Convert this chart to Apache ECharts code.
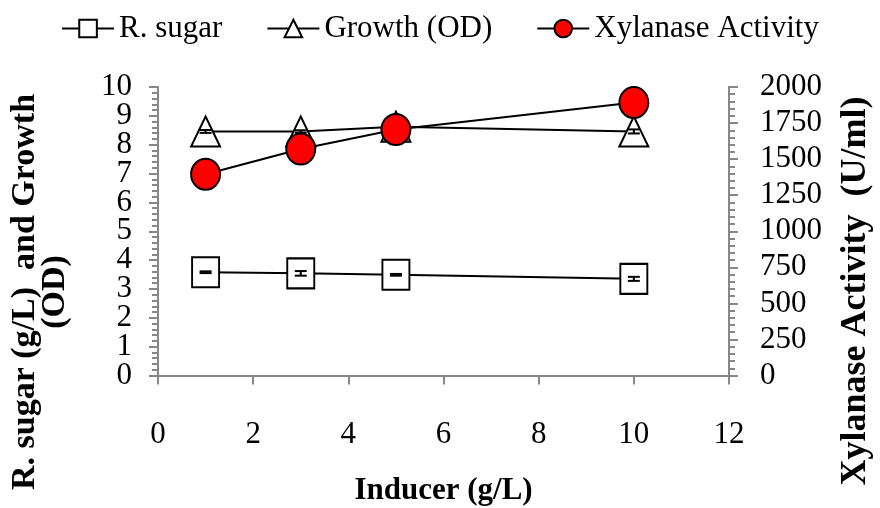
<!DOCTYPE html>
<html>
<head>
<meta charset="utf-8">
<script src="https://cdn.jsdelivr.net/npm/echarts@6/dist/echarts.min.js"></script>
<style>html,body{margin:0;padding:0;background:#fff}#c{width:880px;height:508px}</style>
</head>
<body>
<div id="c"></div>
<script>
// Data
var inducer = [1, 3, 5, 10];
var sugar = [3.58, 3.54, 3.49, 3.35];
var sugarErr = [0.03, 0.08, 0.03, 0.07];
var growth = [8.46, 8.46, 8.62, 8.46];
var growthErr = [0.05, 0.04, 0.04, 0.07];
var xylanase = [1395, 1570, 1705, 1892];
var xTicks = [0, 2, 4, 6, 8, 10, 12];
var leftTicks = [0, 1, 2, 3, 4, 5, 6, 7, 8, 9, 10];
var rightTicks = [0, 250, 500, 750, 1000, 1250, 1500, 1750, 2000];
var xTitle = 'Inducer (g/L)';
var leftTitle = ['R. sugar (g/L)  and Growth', '(OD)'];
var rightTitle = 'Xylanase Activity  (U/ml)';

var FONT = 'Liberation Serif';
function pairs(xs, ys) { return xs.map(function (x, i) { return [x, ys[i]]; }); }
function errData(xs, ys, es) { return xs.map(function (x, i) { return [x, ys[i] - es[i], ys[i] + es[i]]; }); }

function errRender(params, api) {
  var x = api.value(0);
  var lo = api.coord([x, api.value(1)]);
  var hi = api.coord([x, api.value(2)]);
  var w = 6;
  var st = { stroke: '#000', lineWidth: 2 };
  return {
    type: 'group',
    children: [
      { type: 'line', shape: { x1: lo[0], y1: lo[1], x2: hi[0], y2: hi[1] }, style: st },
      { type: 'line', shape: { x1: lo[0] - w, y1: lo[1], x2: lo[0] + w, y2: lo[1] }, style: st },
      { type: 'line', shape: { x1: hi[0] - w, y1: hi[1], x2: hi[0] + w, y2: hi[1] }, style: st }
    ]
  };
}

var axisLineStyle = { color: '#878787', width: 2 };
var labelBase = { fontFamily: FONT, fontSize: 31, color: '#000', showMinLabel: true, showMaxLabel: true, hideOverlap: false };
var lMin = leftTicks[0], lMax = leftTicks[leftTicks.length - 1];
// left labels are split over two overlaid axes (even / odd) so none is dropped as overlapping
function leftLabelAxis(parity, showLine) {
  return {
    type: 'value', position: 'left', min: lMin, max: lMax, interval: 1,
    axisLine: { show: showLine, lineStyle: axisLineStyle },
    axisTick: { show: showLine, length: 9, lineStyle: axisLineStyle },
    minorTick: { show: showLine, splitNumber: 5, length: 6, lineStyle: axisLineStyle },
    splitLine: { show: false }, minorSplitLine: { show: false },
    axisLabel: Object.assign({}, labelBase, {
      margin: 26,
      formatter: function (v) { return (Math.round(v) % 2 === parity) ? String(v) : ''; }
    })
  };
}
var chart = echarts.init(document.getElementById('c'));
chart.setOption({
  animation: false,
  backgroundColor: '#fff',
  textStyle: { fontFamily: FONT, color: '#000' },
  legend: {
    top: 8,
    left: 'center',
    itemWidth: 52,
    itemHeight: 22,
    itemGap: 44,
    textStyle: { fontFamily: FONT, fontSize: 31, color: '#000' },
    data: ['R. sugar', 'Growth (OD)', 'Xylanase Activity']
  },
  grid: { left: 158, right: 151, top: 87, bottom: 132.5, containLabel: false, outerBoundsMode: 'none' },
  xAxis: {
    type: 'value', min: xTicks[0], max: xTicks[xTicks.length - 1], interval: 2,
    axisLine: { lineStyle: axisLineStyle },
    axisTick: { show: true, length: 9, lineStyle: axisLineStyle },
    splitLine: { show: false },
    axisLabel: Object.assign({}, labelBase, { margin: 44 }),
    name: xTitle, nameLocation: 'middle', nameGap: 100,
    nameTextStyle: { fontFamily: FONT, fontSize: 31, fontWeight: 'bold', color: '#000' }
  },
  yAxis: [
    leftLabelAxis(0, true),
    {
      type: 'value', position: 'right', min: rightTicks[0], max: rightTicks[rightTicks.length - 1], interval: 250,
      axisLine: { show: true, lineStyle: axisLineStyle },
      axisTick: { show: true, length: 9, lineStyle: axisLineStyle },
      minorTick: { show: true, splitNumber: 5, length: 6, lineStyle: axisLineStyle },
      splitLine: { show: false }, minorSplitLine: { show: false },
      axisLabel: Object.assign({}, labelBase, { margin: 31, formatter: function (v) { return String(v); } })
    },
    Object.assign(leftLabelAxis(1, false), { offset: 0 })
  ],
  graphic: [
    {
      type: 'text', x: 40, y: 292, rotation: Math.PI / 2,
      style: { text: leftTitle.join('\n'), font: 'bold 34px "Liberation Serif"', fill: '#000',
               align: 'center', verticalAlign: 'middle', lineHeight: 30 }
    },
    {
      type: 'text', x: 856, y: 291, rotation: Math.PI / 2,
      style: { text: rightTitle, font: 'bold 36px "Liberation Serif"', fill: '#000',
               align: 'center', verticalAlign: 'middle' }
    }
  ],
  series: [
    {
      name: 'R. sugar', type: 'line', yAxisIndex: 0, data: pairs(inducer, sugar),
      symbol: 'rect', symbolSize: [27, 30],
      lineStyle: { color: '#000', width: 2 },
      itemStyle: { color: '#fff', borderColor: '#000', borderWidth: 2 },
      z: 2
    },
    {
      name: 'R. sugar err', type: 'custom', yAxisIndex: 0, renderItem: errRender,
      data: errData(inducer, sugar, sugarErr), z: 3, silent: true
    },
    {
      name: 'Growth (OD)', type: 'line', yAxisIndex: 0, data: pairs(inducer, growth),
      symbol: 'triangle', symbolSize: [29, 30],
      lineStyle: { color: '#000', width: 2 },
      itemStyle: { color: '#fff', borderColor: '#000', borderWidth: 2 },
      z: 4
    },
    {
      name: 'Growth err', type: 'custom', yAxisIndex: 0, renderItem: errRender,
      data: errData(inducer, growth, growthErr), z: 5, silent: true
    },
    {
      name: 'Xylanase Activity', type: 'line', yAxisIndex: 1, data: pairs(inducer, xylanase),
      symbol: 'circle', symbolSize: [29, 31],
      lineStyle: { color: '#000', width: 2 },
      itemStyle: { color: '#ff0000', borderColor: '#000', borderWidth: 2 },
      z: 6
    }
  ]
});
</script>
</body>
</html>
